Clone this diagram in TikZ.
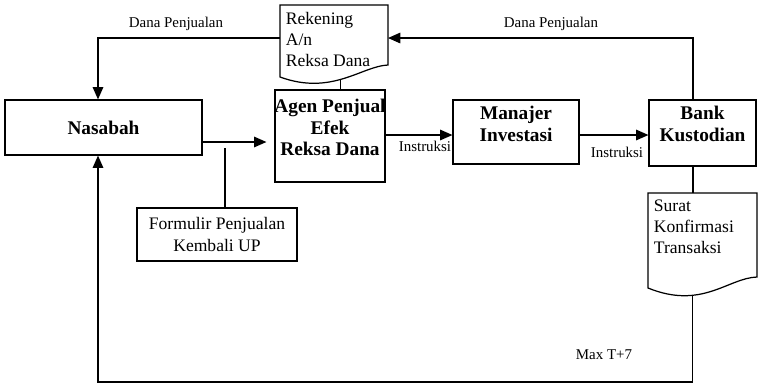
\documentclass[tikz,border=0pt]{standalone}
\usepackage{fontspec}
\setmainfont{Liberation Serif}
\usetikzlibrary{positioning}
\usetikzlibrary{arrows.meta}

\tikzset{
  box/.style={draw, line width=0.7pt, font=\fontsize{11}{12.2}\selectfont\bfseries, align=center, inner sep=2pt},
  boxtext/.style={draw=none, font=\fontsize{11}{12.2}\selectfont\bfseries, align=center, inner sep=2pt, anchor=north},
  plainbox/.style={draw, line width=0.7pt, font=\fontsize{10}{12.2}\selectfont, align=center, inner sep=2pt},
  doctext/.style={font=\fontsize{10}{12}\selectfont, align=left, inner sep=2pt, anchor=north west},
  lbl/.style={font=\fontsize{8.5}{10}\selectfont, inner sep=1pt},
  line/.style={line width=0.7pt},
  arr/.style={line width=0.7pt, -{Triangle[length=7pt,width=6pt]}},
}

\begin{document}
\begin{tikzpicture}[x=0.02cm, y=-0.02cm]
\useasboundingbox (0,0) rectangle (759,383);

% boxes
\node[box, minimum width=3.94cm, minimum height=1.1cm] (nasabah) at (103.5,127.5) {Nasabah};
\node[box, minimum width=2.2cm, minimum height=1.84cm] (agen) at (330,136) {};
\node[boxtext] (agentext) at ([yshift=-0.12cm]agen.north) {Agen Penjual\\Efek\\Reksa Dana};
\node[box, minimum width=2.52cm, minimum height=1.28cm] (manajer) at (516,132) {};
\node[boxtext] (manajertext) at ([yshift=-0.06cm]manajer.north) {Manajer\\Investasi};
\node[box, minimum width=2.14cm, minimum height=1.32cm] (bank) at (702.5,133) {};
\node[boxtext] (banktext) at ([yshift=-0.06cm]bank.north) {Bank\\Kustodian};
\node[plainbox, minimum width=3.2cm, minimum height=1.06cm] (formulir) at (217,234.5) {Formulir Penjualan\\Kembali UP};

% documents
\draw[line] (280,5) -- (388,5) -- (388,65) .. controls (362,66) and (332,96) .. coordinate[pos=0.53] (rekout) (280,77) -- cycle;
\node[doctext] (rekening) at (282,8) {Rekening\\A/n\\Reksa Dana};
\coordinate (rekwest) at (280,38);
\coordinate (rekeast) at (388,38);

\draw[line] (648,193) -- (757,193) -- (757,277) .. controls (728,278) and (702,310) .. coordinate[pos=0.68] (suratout) (648,288) -- cycle;
\node[doctext] (surat) at (650,196) {Surat\\Konfirmasi\\Transaksi};
\coordinate (surattop) at (693,193);

% connectors
\coordinate (bankup) at (693,38);
\coordinate (nasleft) at (98,38);
\coordinate (nasdown) at (98,382);
\coordinate (tap) at (225,142);

\draw[arr] (bank.north -| bankup) -- (bankup) -- (rekeast);
\draw[arr] (rekwest) -- (nasleft) -- (nasleft |- nasabah.north);
\draw[arr, shorten >=0.16cm] (nasabah.east |- tap) -- (agen.west |- tap);
\draw[line] ([yshift=-0.12cm]tap) -- (tap |- formulir.north);
\draw[line] (rekout) -- (rekout |- agen.north);
\draw[arr] (agen.east |- 0,135) -- (manajer.west |- 0,135);
\draw[arr] (manajer.east |- 0,135) -- (bank.west |- 0,135);
\draw[line] (bank.south -| surattop) -- (surattop);
\draw[arr] (suratout) -- (suratout |- nasdown) -- (nasdown) -- (nasdown |- nasabah.south);

% labels
\node[lbl] (dana1) at (176,24) {Dana Penjualan};
\node[lbl] (dana2) at (551,24) {Dana Penjualan};
\node[lbl] (instr1) at (425,146) {Instruksi};
\node[lbl] (instr2) at (617,152) {Instruksi};
\node[lbl] (maxt) at (604,355) {Max T+7};

\end{tikzpicture}
\end{document}
